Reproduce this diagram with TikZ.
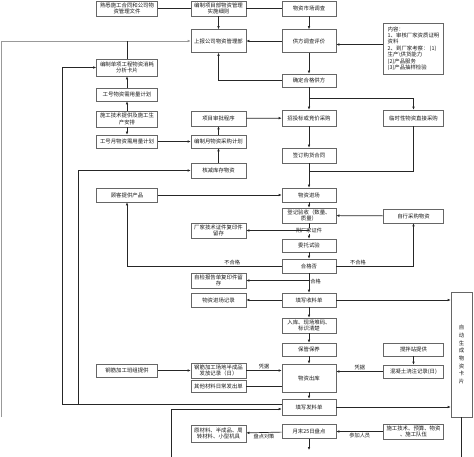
\documentclass[tikz,border=0pt]{standalone}
\usepackage{fontspec}
\newfontfamily\cjkfont{Noto Sans CJK SC}
\usetikzlibrary{arrows.meta,positioning,calc}

\begin{document}
\begin{tikzpicture}[x=1pt, y=-1pt,
    box/.style={draw=black!60, fill=white, line width=0.6pt, inner sep=0.5pt, align=center, text=black!90, font=\cjkfont\fontsize{5.4}{6.4}\selectfont},
    cola/.style={box, minimum width=61},
    colb/.style={box, minimum width=55},
    colc/.style={box, minimum width=54},
    cold/.style={box, minimum width=60},
    line/.style={draw=black!85, line width=0.7pt},
    arr/.style={-{Latex[length=3pt,width=2.6pt]}},
    lbl/.style={font=\cjkfont\fontsize{5.2}{6}\selectfont, text=black!90, inner sep=1pt}]
    \useasboundingbox (0,0) rectangle (474,457);
    \fill[white] (0,0) rectangle (474,457);

    \node[cola, minimum height=15] (shuxi) at (127,8.5) {熟悉施工合同和公司物\\资管理文件};
    \node[colb, minimum height=15] (bianzhi) at (218.5,8.5) {编制项目部物资管理\\实施细则};
    \node[colc, minimum height=15] (shichang) at (309,8.5) {物资市场调查};
    \node[colb, minimum height=23] (shangbao) at (218.5,41) {上报公司物资管理部};
    \node[colc, minimum height=23] (gongfang) at (309,41) {供方调查评价};
    \node[cold, minimum height=51, align=left] (neirong) at (413.5,48.5) {内容：\\1、审核厂家资质证明\\资料\\2、到厂家考察：\ (1)\\生产\textbackslash 供货能力\\(2)产品服务\\(3)产品抽样检验};
    \node[colc, minimum height=13] (hege) at (309,80.5) {确定合格供方};
    \node[cola, minimum height=17] (fenxi) at (127,67.5) {编制单项工程物资消耗\\分析卡片};
    \node[cola, minimum height=13] (gonghao) at (127,94.5) {工号物资需用量计划};
    \node[cola, minimum height=16] (jishu) at (127,119) {施工技术提供及施工生\\产安排};
    \node[cola, minimum height=13] (yuejihua) at (127,141.5) {工号月物资需用量计划};
    \node[colb, minimum height=15] (shenpi) at (218.5,118.5) {项目审批程序};
    \node[colb, minimum height=13] (caigou) at (218.5,141.5) {编制月物资采购计划};
    \node[colc, minimum height=16] (zhaobiao) at (309,118) {招投标或竞价采购};
    \node[cold, minimum height=16] (linshi) at (413.5,118) {临时性物资直接采购};
    \node[colc, minimum height=15] (hetong) at (309,155.5) {签订购货合同};
    \node[colb, minimum height=15] (hejian) at (218.5,170.5) {核减库存物资};
    \node[cola, minimum height=14] (guke) at (127,195) {顾客提供产品};
    \node[colc, minimum height=14] (jinchang) at (309,195) {物资进场};
    \node[colc, minimum height=15] (dengji) at (309,215.5) {登记验收（数量、\\质量）};
    \node[cold, minimum height=14] (zixing) at (413.5,216) {自行采购物资};
    \node[colb, minimum height=15] (changjia) at (218.5,230.5) {厂家技术证件复印件\\留存};
    \node[colc, minimum height=13] (weituo) at (309,245.5) {委托试验};
    \node[colc, minimum height=14] (hegefou) at (309,266) {合格否};
    \node[colb, minimum height=15] (zijian) at (218.5,280.5) {自检报告单复印件留\\存};
    \node[colb, minimum height=14] (jilu) at (218.5,300) {物资进场记录};
    \node[colc, minimum height=14] (shouliao) at (309,300) {填写收料单};
    \node[colc, minimum height=15] (ruku) at (309,325.5) {入库、现场堆码、\\标识清楚};
    \node[colc, minimum height=13] (baoguan) at (309,349.5) {保管保养};
    \node[cold, minimum height=13] (jiaoban) at (413.5,349.5) {搅拌站提供};
    \node[colc, minimum height=28] (chuku) at (309,378) {物资出库};
    \node[cold, minimum height=13] (hunningtu) at (413.5,371.5) {混凝土浇注记录(日)};
    \node[cola, minimum height=13] (gangjin) at (127,370.5) {钢筋加工班组提供};
    \node[colb, minimum height=15] (banchengpin) at (218.5,370.5) {钢筋加工场地半成品\\发放记录（日）};
    \node[colb, minimum height=12] (qita) at (218.5,386) {其他材料日常发出单};
    \node[colc, minimum height=16] (faliao) at (309,407) {填写发料单};
    \node[box, minimum width=21, minimum height=125, font=\cjkfont\fontsize{5.4}{7.7}\selectfont] (kapian) at (461.5,354.5) {自\\动\\生\\成\\物\\资\\卡\\片};
    \node[colc, minimum height=14] (pandian) at (309,431.5) {月末25日盘点};
    \node[cold, minimum height=15] (renyuan) at (413.5,431.5) {施工技术、预算、物资\\、施工队伍};
    \node[colb, minimum height=17] (yuancailiao) at (218.5,433.5) {原材料、半成品、周\\转材料、小型机具};

    \coordinate (ltop) at (1,41);
    \coordinate (lbot) at (1,417);
    \coordinate (split1) at (309,98);
    \coordinate (join1) at (309,171);
    \coordinate (lp1) at (62,404);
    \coordinate (lp2) at (78,404);
    \coordinate (lp3) at (171,457);
    \coordinate (pbot) at (309,450);
    \coordinate (kbot) at (461.5,457);

    \draw[line] (shuxi) -- (bianzhi);
    \draw[line] (bianzhi) -- (shichang);
    \draw[line, arr] (bianzhi) -- (shangbao);
    \draw[line, arr] (shichang) -- (gongfang);
    \draw[line, arr] (gongfang) -- (shangbao);
    \draw[line, arr] ([yshift=4pt]neirong.west) -- ([yshift=4pt]neirong.west -| gongfang.east);
    \draw[line, arr] (gongfang) -- (hege);
    \draw[line, arr] (hege) -| (shangbao);
    \draw[line, draw=black!40, arr] (lbot) -- (ltop) -- (shangbao);
    \draw[line] (fenxi) -- (fenxi.north |- ltop);
    \draw[line] (hege) -- (split1);
    \draw[line, arr] (split1) -- (zhaobiao);
    \draw[line, arr] (split1) -| (linshi);
    \draw[line, arr] (shenpi) -- (zhaobiao);
    \draw[line, arr] (caigou) -- (shenpi);
    \draw[line, arr] (yuejihua) -- (caigou);
    \draw[line, arr] (hejian) -- (caigou);
    \draw[line, arr] (jishu) -- (yuejihua);
    \draw[line, arr] (jishu) -- (gonghao);
    \draw[line, arr] (gonghao) -- (fenxi);
    \draw[line, arr] (zhaobiao) -- (hetong);
    \draw[line, arr] (hetong) -- (jinchang);
    \draw[line] (linshi) |- (join1);
    \draw[line, arr] (guke) -- (jinchang);
    \draw[line, arr] (jinchang) -- (dengji);
    \draw[line, arr] (zixing) -- (dengji);
    \draw[line, arr] (dengji) -- (weituo) node[lbl, fill=white, midway] (lfujian) {附厂家证件};
    \draw[line, arr] (dengji.south |- changjia) -- (changjia);
    \draw[line, arr] (weituo) -- (hegefou);
    \draw[line, arr] (hegefou) -- (shouliao) node[lbl, right, pos=0.4] (lhege) {合格};
    \draw[line, arr] (hegefou.south |- zijian) -- (zijian);
    \draw[line, arr] (hegefou) -| (guke) node[lbl, above, pos=0.16] (lbuhege1) {不合格};
    \draw[line, arr] (hegefou) -| (zixing) node[lbl, above, pos=0.14] (lbuhege2) {不合格};
    \draw[line, arr] (shouliao) -- (jilu);
    \draw[line, arr] (shouliao) -- (shouliao -| kapian.west);
    \draw[line, arr] (shouliao) -- (ruku);
    \draw[line, arr] (ruku) -- (baoguan);
    \draw[line, arr] (baoguan) -- (chuku);
    \draw[line, arr] (jiaoban) -- (hunningtu);
    \draw[line, arr] (hunningtu) -- (hunningtu -| chuku.east) node[lbl, above, midway] (lpingju2) {凭据};
    \draw[line, arr] (gangjin) -- (banchengpin);
    \draw[line, arr] (banchengpin) -- (banchengpin -| chuku.west) node[lbl, above, midway] (lpingju1) {凭据};
    \draw[line] (qita) -- (qita -| chuku.west);
    \draw[line, arr] (chuku) -- (faliao);
    \draw[line, arr] (faliao) -- (faliao -| kapian.west);
    \draw[line, arr] ([yshift=3pt]faliao.west) -- (lp1) |- (fenxi);
    \draw[line, arr] (lp2) |- (hejian);
    \draw[line, arr] (lp3) |- ([yshift=-2pt]faliao.west);
    \draw[line, arr] (renyuan) -- (pandian) node[lbl, below, midway] (lcanjia) {参加人员};
    \draw[line, arr] (pandian) -- (yuancailiao) node[lbl, below, midway] (lduice) {盘点对策};
    \draw[line, arr] (pandian) -- (pbot);
    \draw[line] (kapian) -- (kbot);
\end{tikzpicture}
\end{document}
